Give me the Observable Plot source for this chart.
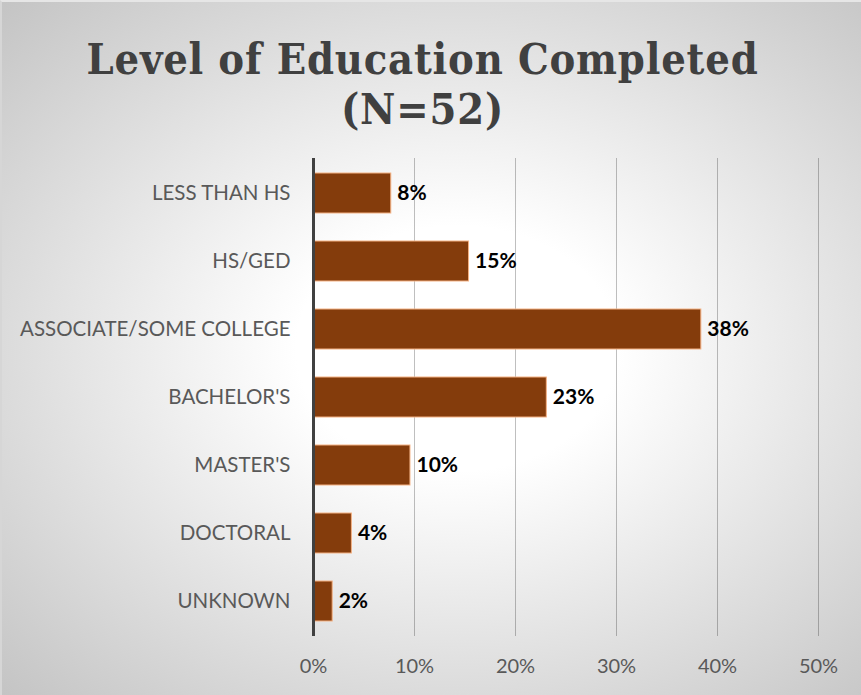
<!DOCTYPE html>
<html>
<head>
<meta charset="utf-8">
<script src="https://cdn.jsdelivr.net/npm/d3@7"></script>
<script src="https://cdn.jsdelivr.net/npm/@observablehq/plot@0.6"></script>
<style>
  html, body { margin: 0; padding: 0; }
  #chart {
    position: relative;
    width: 861px; height: 695px; box-sizing: border-box;
    background: radial-gradient(ellipse farthest-corner at 53% 50%, #ffffff 25%, #c4c4c4 100%);
    border-top: 2px solid #e6e6e6;
    border-left: 2px solid #d6d6d6;
    overflow: hidden;
  }
  #title {
    height: 140px; box-sizing: border-box;
    padding-top: 32px;
    text-align: center;
    padding-right: 18px;
    font-family: "DejaVu Serif", "Liberation Serif", serif;
    font-stretch: condensed;
    font-weight: bold;
    font-size: 43px;
    letter-spacing: 0.8px;
    line-height: 50px;
    color: #404040;
  }
  #plot { position: absolute; left: -2px; top: -2px; }
</style>
</head>
<body>
<div id="chart">
  <div id="title">Level of Education Completed<br>(N=52)</div>
  <div id="plot"></div>
</div>
<script>
const categories = ["LESS THAN HS", "HS/GED", "ASSOCIATE/SOME COLLEGE", "BACHELOR'S", "MASTER'S", "DOCTORAL", "UNKNOWN"];
const shares = [0.077, 0.154, 0.384, 0.231, 0.096, 0.038, 0.019];
const xTicks = [0, 0.1, 0.2, 0.3, 0.4, 0.5];

const data = categories.map((c, i) => ({category: c, value: shares[i]}));
const pct = v => Math.round(v * 100) + "%";

const chart = Plot.plot({
  width: 861,
  height: 695,
  marginTop: 158,
  marginBottom: 59,
  marginLeft: 313,
  marginRight: 43,
  style: {background: "transparent", fontFamily: "Lato, sans-serif"},
  x: {domain: [0, 0.5], ticks: xTicks, tickFormat: pct, label: null},
  y: {domain: categories, paddingInner: 0.41, paddingOuter: 0.205, label: null},
  marks: [
    Plot.ruleX(xTicks.slice(1), {stroke: "#000", strokeOpacity: 0.25, strokeWidth: 1}),
    Plot.barX(data, {x: "value", y: "category", fill: "#843C0C", stroke: "#F4B183", strokeWidth: 1}),
    Plot.ruleX([0], {stroke: "#404040", strokeWidth: 3}),
    Plot.text(data, {x: "value", y: "category", text: d => pct(d.value), textAnchor: "start", dx: 6,
      fill: "#000", fontWeight: "bold", fontSize: 21}),
    Plot.axisX({ticks: xTicks, tickFormat: pct, tickSize: 0, tickPadding: 22, fontSize: 20, color: "#595959", label: null}),
    Plot.axisY({tickSize: 0, tickPadding: 23, fontSize: 20.5, color: "#595959", label: null})
  ]
});
document.getElementById("plot").appendChild(chart);
</script>
</body>
</html>
